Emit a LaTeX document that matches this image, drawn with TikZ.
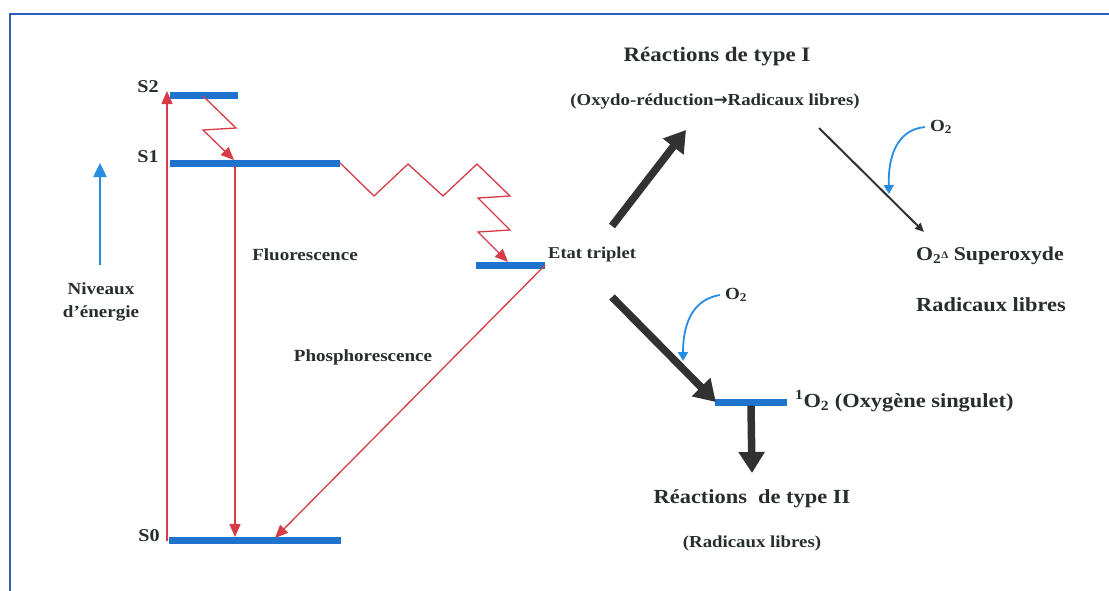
\documentclass[tikz,border=0pt]{standalone}
\usepackage{fontspec}
\setmainfont[FakeStretch=1.12]{Liberation Serif}
\newfontfamily\symfont{DejaVu Sans}
\usetikzlibrary{arrows.meta}
\definecolor{barblue}{RGB}{30,115,205}
\definecolor{frameblue}{RGB}{45,95,185}
\definecolor{lred}{RGB}{215,60,70}
\definecolor{txt}{RGB}{40,45,45}
\definecolor{dark}{RGB}{50,50,50}
\definecolor{cblue}{RGB}{40,140,225}
\begin{document}
\begin{tikzpicture}[x=1pt,y=-1pt,
  bar/.style={fill=barblue, minimum height=7pt, inner sep=0pt, draw=none},
  lbl/.style={text=txt, font=\bfseries\fontsize{17}{20}\selectfont, inner sep=0pt},
  blbl/.style={text=txt, font=\bfseries\fontsize{20}{23}\selectfont, inner sep=0pt},
  slbl/.style={text=txt, font=\bfseries\fontsize{16.8}{19}\selectfont, inner sep=0pt},
  redl/.style={draw=lred, line width=1.3pt, line join=miter},
  redarr/.style={redl, -{Triangle[length=13pt,width=11pt]}},
  bigarr/.style={draw=dark, line width=7.5pt, -{Triangle[length=21pt,width=25pt]}},
  thinarr/.style={draw=dark, line width=2pt, -{Triangle[length=9pt,width=8pt]}},
  bluecurve/.style={draw=cblue, line width=1.8pt, -{Triangle[length=9pt,width=10pt]}},
  bluearr/.style={draw=cblue, line width=2.5pt, -{Triangle[length=14pt,width=13pt]}}
]
\useasboundingbox (0,0) rectangle (1109,590);
\fill[white] (0,0) rectangle (1109,590);
% frame
\draw[frameblue, line width=2pt] (10,600) -- (10,14) -- (1120,14);

% energy level bars
\node[bar, minimum width=68pt]  (s2) at (204,95) {};
\node[bar, minimum width=170pt] (s1) at (255,163) {};
\node[bar, minimum width=172pt] (s0) at (255,540) {};
\node[bar, minimum width=69pt]  (t1) at (510.5,265) {};
\node[bar, minimum width=72pt]  (o1) at (751,402) {};

% level labels
\node[lbl, font=\bfseries\fontsize{18}{20}\selectfont] (ls2) at (148,87) {S2};
\node[lbl, font=\bfseries\fontsize{18}{20}\selectfont] (ls1) at (148,157) {S1};
\node[lbl, font=\bfseries\fontsize{18}{20}\selectfont] (ls0) at (149,536) {S0};

% energy axis
\node[lbl, align=center, font=\bfseries\fontsize{17}{23}\selectfont] (niv) at (101,302) {Niveaux\\d’énergie};
\coordinate (axb) at (100,265);
\coordinate (axt) at (100,163);
\draw[bluearr] (axb) -- (axt);

% absorption
\coordinate (absb) at (167,541);
\coordinate (abst) at (167,91);
\draw[redarr] (absb) -- (abst);

% internal conversion S2 -> S1
\coordinate (ic0) at (203,96);
\coordinate (ic1) at (234,160);
\draw[redarr] (ic0) -- (236,128) -- (203,130) -- (ic1);

% fluorescence
\coordinate (fl0) at (235,166);
\coordinate (fl1) at (235,537);
\draw[redarr] (fl0) -- (fl1);
\node[lbl] (lfl) at (305,255) {Fluorescence};

% intersystem crossing
\coordinate (isc1) at (508,262);
\draw[redarr] (s1.east) -- (374,196) -- (408,164) -- (443,196) -- (477,164)
   -- (510,196) -- (478,198) -- (510,230) -- (478,232) -- (isc1);

% phosphorescence
\coordinate (ph1) at (275,538);
\draw[redarr] (t1.east) -- (ph1);
\node[lbl] (lph) at (363,357) {Phosphorescence};

% triplet
\node[lbl, font=\bfseries\fontsize{16.5}{19}\selectfont, anchor=west] (ltr) at (548,255) {Etat triplet};

% type I
\node[blbl, font=\bfseries\fontsize{20.5}{23}\selectfont] (r1) at (717,57) {Réactions de type I};
\node[slbl] (r1b) at (715,101) {(Oxydo-réduction{\symfont\bfseries →}Radicaux libres)};
\coordinate (a1s) at (612,226);
\coordinate (a1e) at (686,130);
\draw[bigarr] (a1s) -- (a1e);

\coordinate (a2s) at (819,128);
\coordinate (a2e) at (924,232);
\draw[thinarr] (a2s) -- (a2e);
\node[lbl] (o2a) at (941,127) {O\textsubscript{2}};
\coordinate (c1e) at (889,194);
\draw[bluecurve] (o2a.west) ++(-5,0) .. controls (896,130) and (888,158) .. (c1e);

\node[blbl, font=\bfseries\fontsize{19.5}{23}\selectfont] (sup) at (990,256) {O\textsubscript{2}\raisebox{0.25ex}{\fontsize{10}{11}\selectfont Δ} Superoxyde};
\node[blbl] (rad1) at (991,305) {Radicaux libres};

% type II
\coordinate (b1s) at (612,297);
\draw[bigarr] (b1s) -- ([xshift=1pt]o1.west);
\node[lbl] (o2b) at (736,295) {O\textsubscript{2}};
\coordinate (c2e) at (683,361);
\draw[bluecurve] (o2b.west) ++(-5,0) .. controls (690,300) and (683,328) .. (c2e);
\node[blbl, anchor=west] (sing) at (795,401) {\textsuperscript{1}O\textsubscript{2} (Oxygène singulet)};

\coordinate (b2e) at (752,473);
\draw[bigarr] (o1.south) -- (b2e);
\node[blbl] (r2) at (752,499) {Réactions \ de type II};
\node[slbl] (r2b) at (752,543) {(Radicaux libres)};
\end{tikzpicture}
\end{document}
